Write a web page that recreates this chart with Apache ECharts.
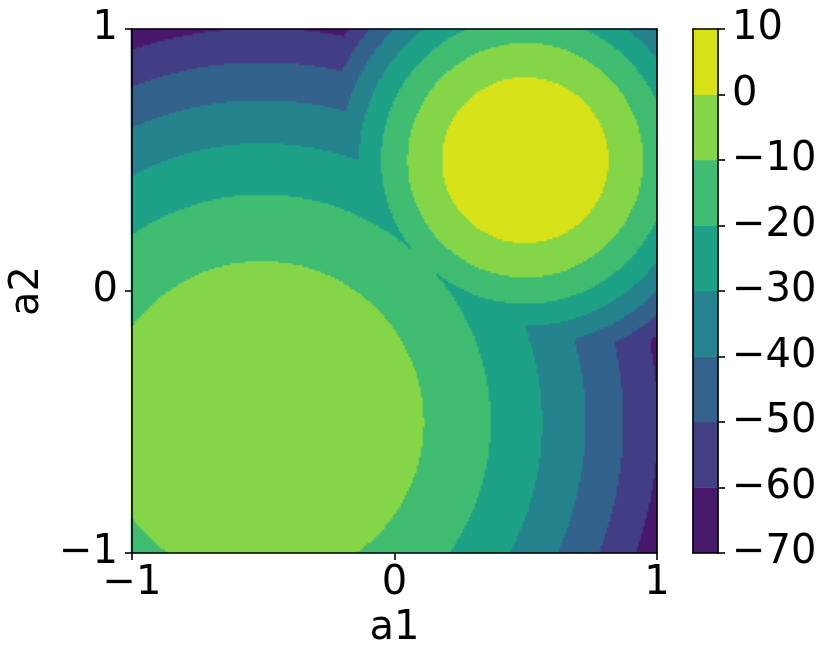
<!DOCTYPE html>
<html><head><meta charset="utf-8">
<script src="https://cdn.jsdelivr.net/npm/echarts@6/dist/echarts.min.js"></script>
<style>html,body{margin:0;padding:0;background:#fff}#chart{width:830px;height:666px}</style>
</head><body><div id="chart"></div>
<script>
// ---- data ----
const xTicks = [-1, 0, 1];
const yTicks = [-1, 0, 1];
const colorbarTicks = [-70, -60, -50, -40, -30, -20, -10, 0, 10];
const levels = [-70, -60, -50, -40, -30, -20, -10, 0, 10];
const levelColors = ['#481a6c', '#423f85', '#33638d', '#26828e', '#1fa187', '#40bd72', '#85d54a', '#d8e219'];
const peakCenters = [[0.5, 0.5], [-0.5, -0.5]];
const peakHeights = [10, 0];
const peakCurvatures = [100, 26.5];
const gridCols = 263, gridRows = 262;
const xLabel = 'a1', yLabel = 'a2';

// ---- build the sampled grid ----
function surface(x, y) {
  let best = -Infinity;
  for (let k = 0; k < peakCenters.length; k++) {
    const dx = x - peakCenters[k][0], dy = y - peakCenters[k][1];
    const v = peakHeights[k] - peakCurvatures[k] * (dx * dx + dy * dy);
    if (v > best) best = v;
  }
  return best;
}
const xCats = [], yCats = [], cells = [];
for (let i = 0; i < gridCols; i++) xCats.push(i);
for (let j = 0; j < gridRows; j++) yCats.push(j);
for (let i = 0; i < gridCols; i++) {
  const x = -1 + (i + 0.5) * 2 / gridCols;
  for (let j = 0; j < gridRows; j++) {
    const y = -1 + (j + 0.5) * 2 / gridRows;
    cells.push([i, j, surface(x, y)]);
  }
}
const cbCats = [], cbCells = [];
for (let k = 0; k < levels.length - 1; k++) {
  cbCats.push(k);
  cbCells.push([0, k, (levels[k] + levels[k + 1]) / 2]);
}
const pieces = [];
for (let k = 0; k < levels.length - 1; k++) {
  const p = { gte: levels[k], color: levelColors[k] };
  if (k === levels.length - 2) p.lte = levels[k + 1]; else p.lt = levels[k + 1];
  pieces.push(p);
}

const FONT = 'DejaVu Sans';
const minus = v => (v < 0 ? '\u2212' : '') + Math.abs(v);
const lineStyle = { color: '#000', width: 1.6 };
const frameAxis = (grid, pos, isX) => ({
  gridIndex: grid, type: 'value', position: pos, min: isX ? -1 : -1, max: 1, z: 10,
  axisLine: { show: true, onZero: false, lineStyle },
  axisTick: { show: false }, axisLabel: { show: false }, splitLine: { show: false }
});

const chart = echarts.init(document.getElementById('chart'), null, { renderer: 'canvas' });
chart.setOption({
  animation: false,
  backgroundColor: '#fff',
  grid: [
    { left: 131, top: 29, width: 526, height: 524 },
    { left: 131, top: 29, width: 526, height: 524 },
    { left: 693, top: 29, width: 25, height: 524 },
    { left: 693, top: 29, width: 25, height: 524 }
  ],
  visualMap: { type: 'piecewise', show: false, dimension: 2, seriesIndex: [0, 1], pieces: pieces },
  xAxis: [
    { gridIndex: 0, type: 'category', data: xCats, show: false },
    { gridIndex: 1, type: 'value', position: 'bottom', min: xTicks[0], max: xTicks[xTicks.length - 1], interval: 1, z: 10,
      axisLine: { show: true, onZero: false, lineStyle },
      axisTick: { show: true, length: 7, lineStyle },
      axisLabel: { show: true, fontSize: 40, fontFamily: FONT, color: '#000', margin: 11, formatter: minus, showMinLabel: true, showMaxLabel: true },
      splitLine: { show: false },
      name: xLabel, nameLocation: 'middle', nameGap: 55,
      nameTextStyle: { fontSize: 40, fontFamily: FONT, color: '#000' } },
    frameAxis(1, 'top', true),
    { gridIndex: 2, type: 'category', data: [0], show: false },
    frameAxis(3, 'bottom', true),
    frameAxis(3, 'top', true)
  ],
  yAxis: [
    { gridIndex: 0, type: 'category', data: yCats, show: false },
    { gridIndex: 1, type: 'value', position: 'left', min: yTicks[0], max: yTicks[yTicks.length - 1], interval: 1, z: 10,
      axisLine: { show: true, onZero: false, lineStyle },
      axisTick: { show: true, length: 7, lineStyle },
      axisLabel: { show: true, fontSize: 40, fontFamily: FONT, color: '#000', margin: 14, formatter: minus, showMinLabel: true, showMaxLabel: true },
      splitLine: { show: false },
      name: yLabel, nameLocation: 'middle', nameGap: 84, nameRotate: 90,
      nameTextStyle: { fontSize: 40, fontFamily: FONT, color: '#000' } },
    frameAxis(1, 'right', false),
    { gridIndex: 2, type: 'category', data: cbCats, show: false },
    { gridIndex: 3, type: 'value', position: 'right', min: colorbarTicks[0], max: colorbarTicks[colorbarTicks.length - 1], interval: 10, z: 10,
      axisLine: { show: true, onZero: false, lineStyle },
      axisTick: { show: true, length: 7, lineStyle },
      axisLabel: { show: true, fontSize: 40, fontFamily: FONT, color: '#000', margin: 14, formatter: minus, showMinLabel: true, showMaxLabel: true },
      splitLine: { show: false } },
    frameAxis(3, 'left', false)
  ],
  series: [
    { type: 'heatmap', xAxisIndex: 0, yAxisIndex: 0, data: cells, progressive: 0, silent: true, emphasis: { disabled: true } },
    { type: 'heatmap', xAxisIndex: 3, yAxisIndex: 3, data: cbCells, progressive: 0, silent: true, emphasis: { disabled: true } }
  ]
});
</script></body></html>
